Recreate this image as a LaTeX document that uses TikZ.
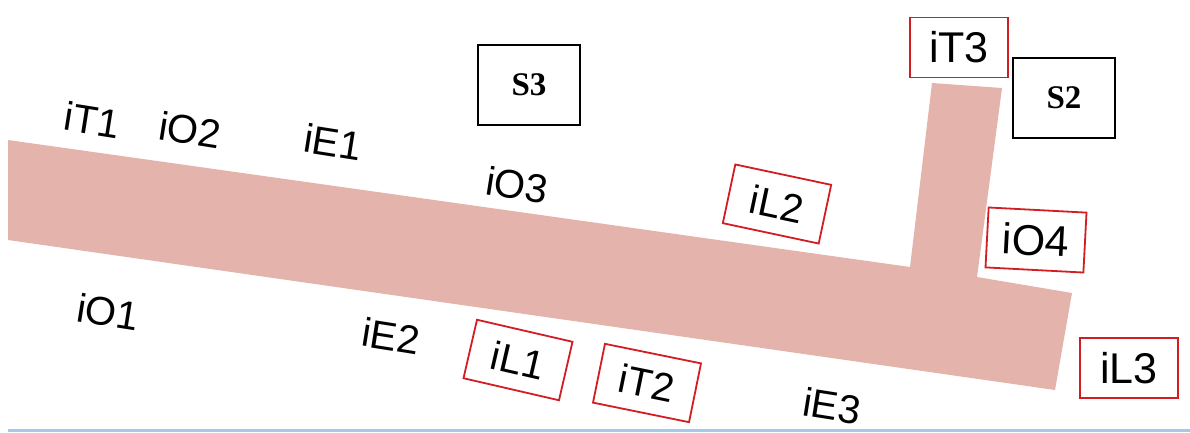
\documentclass[tikz,border=0pt]{standalone}
\usepackage{fontspec}
\setmainfont{Liberation Sans}
\newfontfamily\serifbold{Liberation Serif}
\definecolor{road}{RGB}{228,180,172}
\definecolor{boxred}{RGB}{210,30,35}
\definecolor{baseblue}{RGB}{165,200,235}
\begin{document}
\begin{tikzpicture}[x=1pt,y=-1pt,
  lab/.style={font=\fontsize{40}{44}\selectfont, inner sep=0pt},
  redbox/.style={draw=boxred, line width=1.8pt, minimum width=98pt, minimum height=60pt, inner sep=0pt, font=\fontsize{40}{44}\selectfont},
  bigtext/.style={font=\fontsize{43}{46}\selectfont},
  sbox/.style={draw=black, line width=2pt, minimum width=102pt, minimum height=80pt, inner sep=0pt, font=\serifbold\bfseries\fontsize{33}{36}\selectfont}]
\useasboundingbox (0,0) rectangle (1190,432);
\fill[white] (0,0) rectangle (1190,432);
% road
\fill[road] (8,140) -- (910,267) -- (932,83) -- (1002,88) -- (977,277) -- (1072,293) -- (1055,390) -- (8,240) -- cycle;
% bottom rule
\draw[baseblue, line width=3pt] (8,430.5) -- (1190,430.5);
% plain labels
\node[lab, rotate=-9] (iT1) at (92,120) {iT1};
\node[lab, rotate=-9] (iO2) at (190,130) {iO2};
\node[lab, rotate=-9] (iE1) at (333,142) {iE1};
\node[lab, rotate=-9] (iO3) at (517,185) {iO3};
\node[lab, rotate=-9] (iO1) at (108,312) {iO1};
\node[lab, rotate=-9] (iE2) at (391,336) {iE2};
\node[lab, rotate=-9] (iE3) at (832,406) {iE3};
% red boxes
\node[redbox, rotate=-12] (iL2) at (777,204) {iL2};
\node[redbox, rotate=-13] (iL1) at (518,360) {iL1};
\node[redbox, rotate=-11.5] (iT2) at (647,383) {iT2};
\node[redbox, bigtext] (iT3) at (959,47.5) {iT3};
\node[redbox, bigtext, rotate=-3] (iO4) at (1036,240) {iO4};
\node[redbox, bigtext] (iL3) at (1129,368) {iL3};
% black boxes
\node[sbox] (S3) at (529,85) {S3};
\node[sbox] (S2) at (1064,97.5) {S2};
\end{tikzpicture}
\end{document}
